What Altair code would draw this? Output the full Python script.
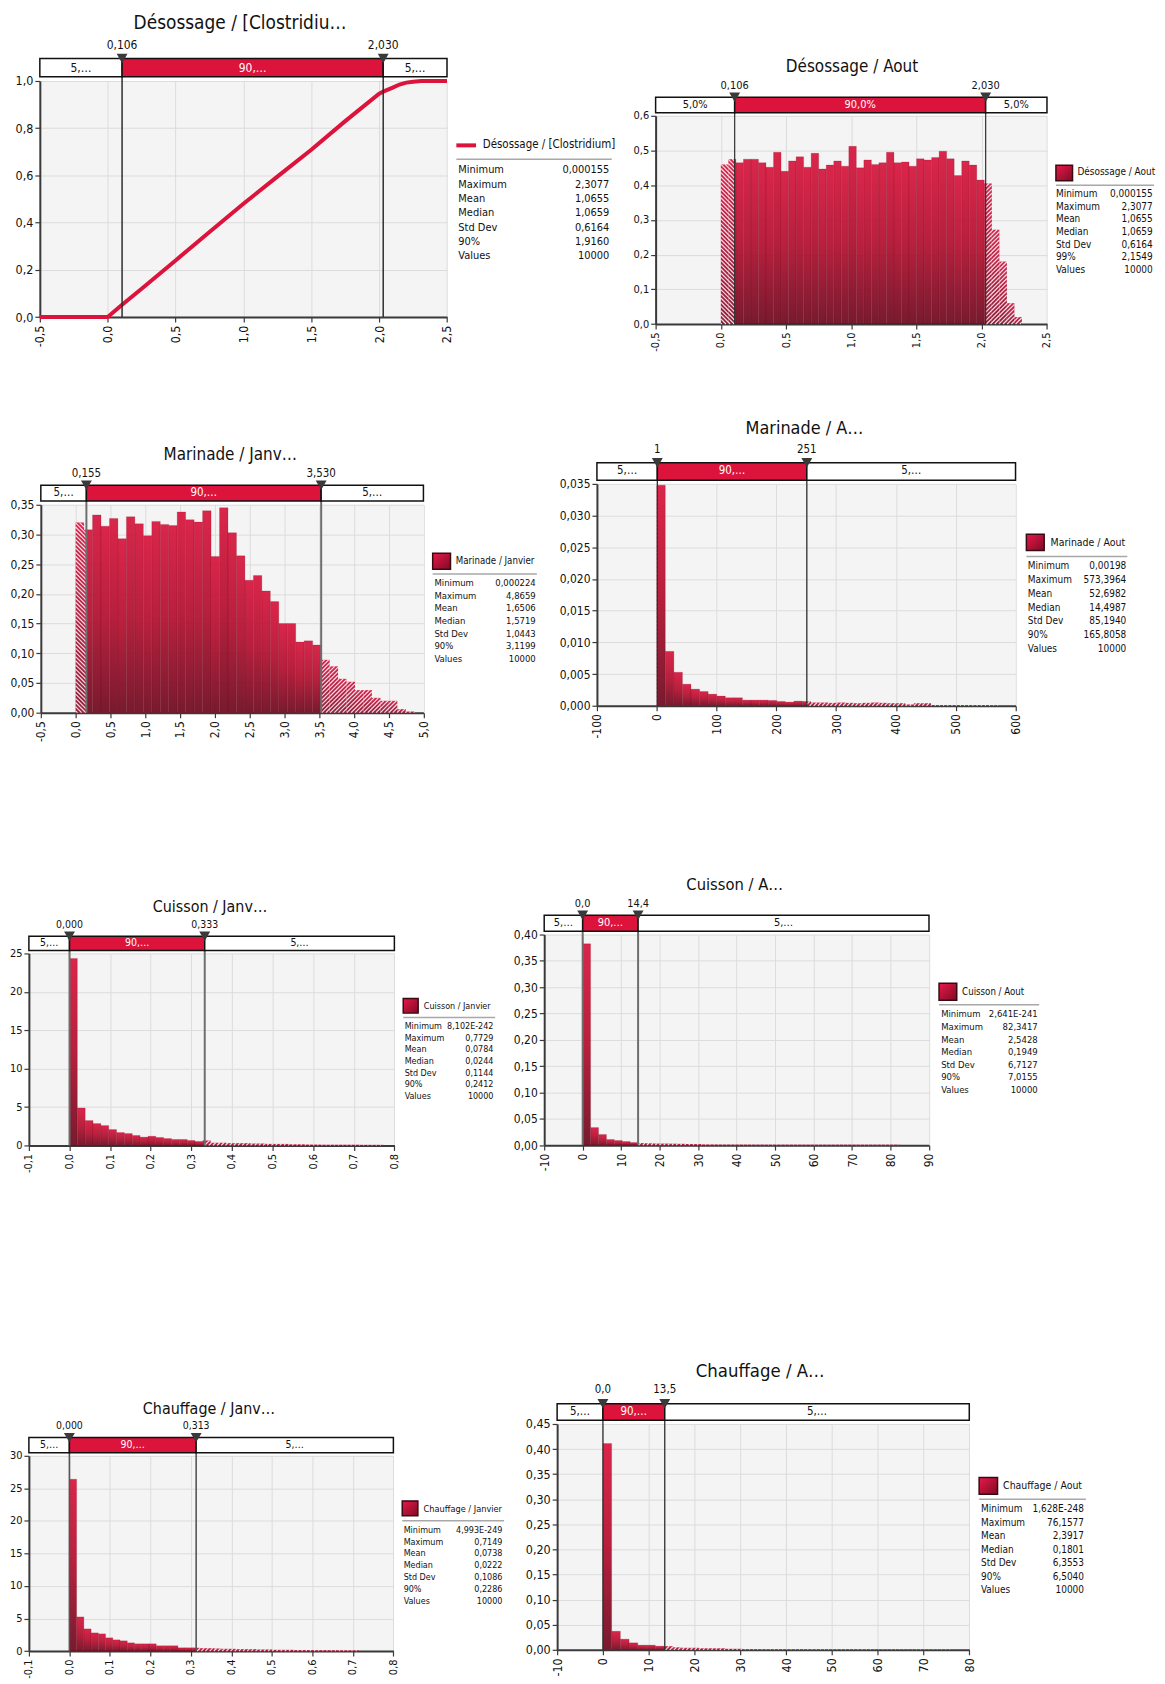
import math
import altair as alt
import pandas as pd

FONT = "DejaVu Sans Condensed, Liberation Sans Narrow, Liberation Sans, DejaVu Sans, sans-serif"
RED = "#DC143C"
INK = "#111111"

# ------------------------------------------------------------------ data
STAT_NAMES = ["Minimum", "Maximum", "Mean", "Median", "Std Dev", "90%", "Values"]
STAT_NAMES_99 = ["Minimum", "Maximum", "Mean", "Median", "Std Dev", "99%", "Values"]

# 1  Désossage / [Clostridium] – cumulative curve
DES_CDF_X = [-0.5, 0.0, 0.106, 0.25, 0.5, 0.75, 1.0, 1.25, 1.5, 1.75, 2.0, 2.03, 2.1, 2.15, 2.2, 2.25, 2.31, 2.5]
DES_CDF_Y = [0.0, 0.0, 0.052, 0.12, 0.24, 0.36, 0.48, 0.595, 0.709, 0.83, 0.946, 0.955, 0.972, 0.985, 0.993, 0.997, 1.0, 1.0]
DES_CDF_STATS = ["0,000155", "2,3077", "1,0655", "1,0659", "0,6164", "1,9160", "10000"]

# 2  Désossage / Aout
DES_AOUT_START, DES_AOUT_BIN = 0.0, 0.0577
DES_AOUT_DENS = [0.46, 0.475, 0.465, 0.475, 0.475, 0.465, 0.452, 0.495, 0.44, 0.47,
                 0.482, 0.452, 0.492, 0.447, 0.458, 0.47, 0.455, 0.512, 0.45, 0.473,
                 0.46, 0.465, 0.495, 0.465, 0.467, 0.455, 0.476, 0.473, 0.48, 0.498,
                 0.476, 0.428, 0.47, 0.458, 0.415, 0.405, 0.272, 0.18, 0.06, 0.02]
DES_AOUT_STATS = ["0,000155", "2,3077", "1,0655", "1,0659", "0,6164", "2,1549", "10000"]

# 3  Marinade / Janvier
MAR_JAN_START, MAR_JAN_BIN = 0.0, 0.1217
MAR_JAN_DENS = [0.32, 0.308, 0.333, 0.314, 0.327, 0.293, 0.33, 0.318, 0.298, 0.322,
                0.317, 0.315, 0.338, 0.325, 0.321, 0.34, 0.263, 0.345, 0.303, 0.264,
                0.223, 0.231, 0.205, 0.187, 0.15, 0.15, 0.119, 0.121, 0.114, 0.089,
                0.078, 0.057, 0.052, 0.038, 0.038, 0.025, 0.02, 0.02, 0.006, 0.002]
MAR_JAN_STATS = ["0,000224", "4,8659", "1,6506", "1,5719", "1,0443", "3,1199", "10000"]

# 4  Marinade / Aout
MAR_AOUT_START, MAR_AOUT_BIN = 0.0, 14.335
MAR_AOUT_DENS = [0.0348, 0.00858, 0.00528, 0.0034, 0.00262, 0.00225, 0.00183, 0.00152, 0.00126, 0.00126,
                 0.00089, 0.00089, 0.00089, 0.00084, 0.00068, 0.00058, 0.00073, 0.00068, 0.0005, 0.0005,
                 0.00045, 0.0005, 0.00045, 0.0004, 0.00045, 0.0005, 0.00045, 0.0004, 0.0004, 0.0002,
                 0.0004, 0.0004, 0.0001, 0.0001, 0.0001, 0.0001, 0.0001, 0.0001, 0.0001, 0.00005]
MAR_AOUT_STATS = ["0,00198", "573,3964", "52,6982", "14,4987", "85,1940", "165,8058", "10000"]

# 5  Cuisson / Janvier
CUI_JAN_START, CUI_JAN_BIN = 0.0, 0.01932
CUI_JAN_DENS = [24.35, 4.88, 3.24, 2.85, 2.59, 2.07, 1.68, 1.55, 1.3, 1.08,
                1.2, 1.04, 0.9, 0.78, 0.78, 0.65, 0.52, 0.65, 0.35, 0.35,
                0.3, 0.3, 0.3, 0.25, 0.25, 0.2, 0.2, 0.2, 0.15, 0.15,
                0.12, 0.12, 0.1, 0.1, 0.1, 0.1, 0.1, 0.08, 0.08, 0.08]
CUI_JAN_STATS = ["8,102E-242", "0,7729", "0,0784", "0,0244", "0,1144", "0,2412", "10000"]

# 6  Cuisson / Aout
CUI_AOUT_START, CUI_AOUT_BIN = 0.0, 2.0585
CUI_AOUT_DENS = [0.3824, 0.0334, 0.0202, 0.0107, 0.0088, 0.0069, 0.005, 0.004, 0.0035, 0.003,
                 0.003, 0.0028, 0.0025, 0.0022, 0.002, 0.0012, 0.0012, 0.001, 0.001, 0.001,
                 0.0009, 0.0009, 0.0009, 0.0008, 0.0008, 0.0008, 0.0008, 0.0008, 0.0008, 0.0008,
                 0.0008, 0.0008, 0.0008, 0.0008, 0.0008, 0.0008, 0.0008, 0.0008, 0.0008, 0.0008]
CUI_AOUT_STATS = ["2,641E-241", "82,3417", "2,5428", "0,1949", "6,7127", "7,0155", "10000"]

# 7  Chauffage / Janvier
CHA_JAN_START, CHA_JAN_BIN = 0.0, 0.01787
CHA_JAN_DENS = [26.4, 5.25, 3.41, 2.8, 2.65, 2.04, 1.73, 1.58, 1.27, 1.12,
                1.12, 1.12, 0.82, 0.82, 0.82, 0.51, 0.51, 0.51, 0.45, 0.45,
                0.4, 0.35, 0.35, 0.3, 0.3, 0.3, 0.25, 0.25, 0.2, 0.2,
                0.2, 0.15, 0.15, 0.15, 0.12, 0.12, 0.12, 0.1, 0.1, 0.1]
CHA_JAN_STATS = ["4,993E-249", "0,7149", "0,0738", "0,0222", "0,1086", "0,2286", "10000"]

# 8  Chauffage / Aout
CHA_AOUT_START, CHA_AOUT_BIN = 0.0, 1.904
CHA_AOUT_DENS = [0.411, 0.037, 0.0212, 0.0139, 0.0093, 0.0093, 0.0073, 0.0073, 0.005, 0.004,
                 0.004, 0.003, 0.003, 0.003, 0.002, 0.002, 0.0008, 0.0008, 0.0008, 0.0007,
                 0.0007, 0.0007, 0.0007, 0.0007, 0.0007, 0.0006, 0.0006, 0.0006, 0.0006, 0.0006,
                 0.0006, 0.0005, 0.0005, 0.0005, 0.0005, 0.0005, 0.0005, 0.0005, 0.0005, 0.0005]
CHA_AOUT_STATS = ["1,628E-248", "76,1577", "2,3917", "0,1801", "6,3553", "6,5040", "10000"]

# axis tick values
X_TICKS_25 = [-0.5, 0.0, 0.5, 1.0, 1.5, 2.0, 2.5]
X_TICKS_50 = [-0.5, 0.0, 0.5, 1.0, 1.5, 2.0, 2.5, 3.0, 3.5, 4.0, 4.5, 5.0]
X_TICKS_600 = [-100, 0, 100, 200, 300, 400, 500, 600]
X_TICKS_08 = [-0.1, 0.0, 0.1, 0.2, 0.3, 0.4, 0.5, 0.6, 0.7, 0.8]
X_TICKS_90 = [-10, 0, 10, 20, 30, 40, 50, 60, 70, 80, 90]
X_TICKS_80 = [-10, 0, 10, 20, 30, 40, 50, 60, 70, 80]
Y_TICKS_10 = [0.0, 0.2, 0.4, 0.6, 0.8, 1.0]
Y_TICKS_06 = [0.0, 0.1, 0.2, 0.3, 0.4, 0.5, 0.6]
Y_TICKS_035 = [0.0, 0.05, 0.10, 0.15, 0.20, 0.25, 0.30, 0.35]
Y_TICKS_0035 = [0.0, 0.005, 0.010, 0.015, 0.020, 0.025, 0.030, 0.035]
Y_TICKS_25 = [0, 5, 10, 15, 20, 25]
Y_TICKS_040 = [0.0, 0.05, 0.10, 0.15, 0.20, 0.25, 0.30, 0.35, 0.40]
Y_TICKS_30 = [0, 5, 10, 15, 20, 25, 30]
Y_TICKS_045 = [0.0, 0.05, 0.10, 0.15, 0.20, 0.25, 0.30, 0.35, 0.40, 0.45]

BAND_SHORT = ["5,…", "90,…", "5,…"]
BAND_PCT = ["5,0%", "90,0%", "5,0%"]

# ------------------------------------------------------------------ styling helpers
BAR_GRAD = alt.LinearGradient(gradient="linear", x1=0, y1=0, x2=0, y2=1, stops=[
    alt.GradientStop(offset=0, color="#D8163E"),
    alt.GradientStop(offset=0.5, color="#B3102F"),
    alt.GradientStop(offset=1, color="#6E0A20")])
HATCH_GRAD = alt.LinearGradient(gradient="linear", x1=0, y1=0, x2=0, y2=1, stops=[
    alt.GradientStop(offset=0, color="#D41A44"),
    alt.GradientStop(offset=1, color="#8E1230")])
SWATCH_GRAD = alt.LinearGradient(gradient="linear", x1=0, y1=0, x2=1, y2=1, stops=[
    alt.GradientStop(offset=0, color="#E8194A"),
    alt.GradientStop(offset=1, color="#7E0A24")])

ONE = pd.DataFrame({"k": [0]})
RIGHT_EDGE = 1154


def lab_expr(fmt):
    return "(datum.value < 0 ? '-' : '') + replace(format(abs(datum.value), '%s'), '.', ',')" % fmt


def text_layer(txt, x, y, size, align="left", color=INK):
    return alt.Chart(ONE).mark_text(text=txt, align=align, baseline="middle", font=FONT,
                                    fontSize=size, color=color).encode(x=alt.value(x), y=alt.value(y))


def box(x0, x1, y0, y1, fill, stroke=None, sw=0):
    kw = dict(fill=fill)
    if stroke:
        kw.update(stroke=stroke, strokeWidth=sw)
    return alt.Chart(ONE).mark_rect(**kw).encode(x=alt.value(x0), x2=alt.value(x1),
                                                 y=alt.value(y0), y2=alt.value(y1))


def hline(x0, x1, y, color, w):
    return alt.Chart(ONE).mark_rule(color=color, strokeWidth=w).encode(
        x=alt.value(x0), x2=alt.value(x1), y=alt.value(y))


def hist_parts(start, width, heights, m1, m2):
    solid, hatch = [], []
    for i, h in enumerate(heights):
        a = start + i * width
        b = a + width
        for lo, hi, side in ((a, min(b, m1), "L"), (max(a, m1), min(b, m2), "S"), (max(a, m2), b, "R")):
            if hi - lo > 1e-9:
                (solid if side == "S" else hatch).append(
                    {"x0": lo, "x1": hi, "y": h, "y0": 0.0, "side": side})
    return pd.DataFrame(solid), pd.DataFrame(hatch)


def hatch_lines(hatch, xdom, ydom, W, H, step=4.2):
    sx = W / (xdom[1] - xdom[0])
    sy = H / (ydom[1] - ydom[0])
    segs = []
    for r in hatch.itertuples():
        X0 = (r.x0 - xdom[0]) * sx
        X1 = (r.x1 - xdom[0]) * sx
        Y0 = (ydom[1] - r.y) * sy
        Y1 = H
        if X1 - X0 < 0.4:
            continue
        if r.side == "L":
            for k in range(math.ceil((Y0 - X1) / step), math.floor((Y1 - X0) / step) + 1):
                c = k * step
                xa, xb = max(X0, Y0 - c), min(X1, Y1 - c)
                if xb - xa > 0.05:
                    segs.append((xa, xa + c, xb, xb + c))
        else:
            for k in range(math.ceil((X0 + Y0) / step), math.floor((X1 + Y1) / step) + 1):
                c = k * step
                xa, xb = max(X0, c - Y1), min(X1, c - Y0)
                if xb - xa > 0.05:
                    segs.append((xa, c - xa, xb, c - xb))
    rows = []
    for xa, ya, xb, yb in segs:
        rows.append({"hx0": xdom[0] + xa / sx, "hy0": ydom[1] - ya / sy,
                     "hx1": xdom[0] + xb / sx, "hy1": ydom[1] - yb / sy})
    return pd.DataFrame(rows)


# ------------------------------------------------------------------ panels (layout in page pixels)
PANELS = {
    "p1": dict(kind="cdf", cx=DES_CDF_X, cy=DES_CDF_Y,
               plot=(39.5, 76.7, 409.3, 237.3), xdom=[-0.5, 2.5], xticks=X_TICKS_25, xfmt=".1f",
               ydom=[0, 1.0], yticks=Y_TICKS_10, yfmt=".1f", tfs=12.5,
               title="Désossage / [Clostridiu…", title_xy=(241.2, 18.3), title_fs=19,
               band=(54.3, 72.7), band_txt=BAND_SHORT, markers=[0.106, 2.030], mlab=["0,106", "2,030"],
               mly=40.7, mfs=12, rc="#2E2E2E", rw=1.5,
               leg="line", sw=(458.7, 478.5, 141.7, 141.7), lab="Désossage / [Clostridium]",
               lab_xy=(485.2, 141.0), lab_fs=11.5, sep=(458.7, 614.9, 155.7),
               y0=166.7, sp=14.43, lx=460.7, vx=612.5, fs=11, names=STAT_NAMES, vals=DES_CDF_STATS),
    "p2": dict(kind="hist", start=DES_AOUT_START, bw=DES_AOUT_BIN, dens=DES_AOUT_DENS,
               plot=(659.3, 111.7, 393.4, 209.3), xdom=[-0.5, 2.5], xticks=X_TICKS_25, xfmt=".1f",
               ydom=[0, 0.6], yticks=Y_TICKS_06, yfmt=".1f", tfs=11,
               title="Désossage / Aout", title_xy=(856.4, 63.3), title_fs=17,
               band=(93.3, 109.0), band_txt=BAND_PCT, markers=[0.106, 2.030], mlab=["0,106", "2,030"],
               mly=82.3, mfs=11, rc="#2E2E2E", rw=1.2,
               leg="box", sw=(1061.4, 1078.1, 161.7, 177.3), lab="Désossage / Aout",
               lab_xy=(1083.0, 168.3), lab_fs=10, sep=(1061.4, 1160.0, 181.7),
               y0=190.7, sp=12.67, lx=1061.4, vx=1158.7, fs=10, names=STAT_NAMES_99, vals=DES_AOUT_STATS),
    "p3": dict(kind="hist", start=MAR_JAN_START, bw=MAR_JAN_BIN, dens=MAR_JAN_DENS,
               plot=(40.4, 502.7, 384.6, 209.0), xdom=[-0.5, 5.0], xticks=X_TICKS_50, xfmt=".1f",
               ydom=[0, 0.35], yticks=Y_TICKS_035, yfmt=".2f", tfs=12,
               title="Marinade / Janv…", title_xy=(230.4, 452.7), title_fs=17,
               band=(483.3, 499.3), band_txt=BAND_SHORT, markers=[0.155, 3.530], mlab=["0,155", "3,530"],
               mly=471.7, mfs=11.5, rc="#6E6E6E", rw=2,
               leg="box", sw=(433.9, 451.8, 551.7, 567.7), lab="Marinade / Janvier",
               lab_xy=(457.1, 559.3), lab_fs=9.7, sep=(433.9, 538.6, 572.7),
               y0=581.7, sp=12.7, lx=435.7, vx=537.5, fs=9.5, names=STAT_NAMES, vals=MAR_JAN_STATS),
    "p4": dict(kind="hist", start=MAR_AOUT_START, bw=MAR_AOUT_BIN, dens=MAR_AOUT_DENS,
               plot=(599.4, 481.7, 420.8, 223.0), xdom=[-100, 600], xticks=X_TICKS_600, xfmt="d",
               ydom=[0, 0.035], yticks=Y_TICKS_0035, yfmt=".3f", tfs=12,
               title="Marinade / A…", title_xy=(807.6, 426.7), title_fs=18,
               band=(460.7, 478.3), band_txt=BAND_SHORT, markers=[1, 251], mlab=["1", "251"],
               mly=447.7, mfs=11.5, rc="#2E2E2E", rw=1.3,
               leg="box", sw=(1030.7, 1048.6, 532.7, 549.0), lab="Marinade / Aout",
               lab_xy=(1055.0, 541.0), lab_fs=10.5, sep=(1030.7, 1132.2, 555.0),
               y0=565.0, sp=13.8, lx=1032.2, vx=1131.1, fs=10, names=STAT_NAMES, vals=MAR_AOUT_STATS),
    "p5": dict(kind="hist", start=CUI_JAN_START, bw=CUI_JAN_BIN, dens=CUI_JAN_DENS,
               plot=(28.3, 954.0, 367.4, 193.0), xdom=[-0.1, 0.8], xticks=X_TICKS_08, xfmt=".1f",
               ydom=[0, 25], yticks=Y_TICKS_25, yfmt="d", tfs=11,
               title="Cuisson / Janv…", title_xy=(210.0, 907.7), title_fs=16,
               band=(936.7, 951.0), band_txt=BAND_SHORT, markers=[0.0, 0.333], mlab=["0,000", "0,333"],
               mly=925.0, mfs=10.5, rc="#6E6E6E", rw=2,
               leg="box", sw=(404.3, 419.3, 999.3, 1014.0), lab="Cuisson / Janvier",
               lab_xy=(425.0, 1006.7), lab_fs=9, sep=(404.3, 496.7, 1018.3),
               y0=1027.0, sp=11.7, lx=405.7, vx=495.0, fs=9, names=STAT_NAMES, vals=CUI_JAN_STATS),
    "p6": dict(kind="hist", start=CUI_AOUT_START, bw=CUI_AOUT_BIN, dens=CUI_AOUT_DENS,
               plot=(546.4, 935.0, 386.8, 211.7), xdom=[-10, 90], xticks=X_TICKS_90, xfmt="d",
               ydom=[0, 0.40], yticks=Y_TICKS_040, yfmt=".2f", tfs=12,
               title="Cuisson / A…", title_xy=(737.5, 885.0), title_fs=16.5,
               band=(915.7, 931.7), band_txt=BAND_SHORT, markers=[0.0, 14.4], mlab=["0,0", "14,4"],
               mly=904.0, mfs=11, rc="#6E6E6E", rw=2,
               leg="box", sw=(942.9, 960.7, 984.0, 1001.0), lab="Cuisson / Aout",
               lab_xy=(966.1, 992.7), lab_fs=9.7, sep=(942.9, 1043.6, 1005.7),
               y0=1015.3, sp=12.67, lx=945.0, vx=1042.1, fs=9.5, names=STAT_NAMES, vals=CUI_AOUT_STATS),
    "p7": dict(kind="hist", start=CHA_JAN_START, bw=CHA_JAN_BIN, dens=CHA_JAN_DENS,
               plot=(29.3, 1459.0, 366.4, 196.3), xdom=[-0.1, 0.8], xticks=X_TICKS_08, xfmt=".1f",
               ydom=[0, 30], yticks=Y_TICKS_30, yfmt="d", tfs=11,
               title="Chauffage / Janv…", title_xy=(210.0, 1411.7), title_fs=16,
               band=(1440.7, 1456.0), band_txt=BAND_SHORT, markers=[0.0, 0.313], mlab=["0,000", "0,313"],
               mly=1429.3, mfs=10.5, rc="#555555", rw=1.6,
               leg="box", sw=(404.3, 420.0, 1504.3, 1519.3), lab="Chauffage / Janvier",
               lab_xy=(425.7, 1512.3), lab_fs=9.2, sep=(404.3, 506.7, 1524.3),
               y0=1533.3, sp=11.95, lx=405.7, vx=505.0, fs=9, names=STAT_NAMES, vals=CHA_JAN_STATS),
    "p8": dict(kind="hist", start=CHA_AOUT_START, bw=CHA_AOUT_BIN, dens=CHA_AOUT_DENS,
               plot=(559.6, 1426.7, 414.3, 227.0), xdom=[-10, 80], xticks=X_TICKS_80, xfmt="d",
               ydom=[0, 0.45], yticks=Y_TICKS_045, yfmt=".2f", tfs=12.5,
               title="Chauffage / A…", title_xy=(764.1, 1373.3), title_fs=18.5,
               band=(1406.7, 1423.3), band_txt=BAND_SHORT, markers=[0.0, 13.5], mlab=["0,0", "13,5"],
               mly=1393.3, mfs=11.5, rc="#2E2E2E", rw=1.3,
               leg="box", sw=(984.2, 1002.7, 1480.7, 1497.7), lab="Chauffage / Aout",
               lab_xy=(1008.3, 1489.0), lab_fs=10.5, sep=(984.2, 1091.5, 1502.7),
               y0=1512.7, sp=13.55, lx=986.1, vx=1089.6, fs=10, names=STAT_NAMES, vals=CHA_AOUT_STATS),
}


def build_panel(p, side, row):
    Y0, Y1, C = row
    X = round(p["plot"][0] - 8)
    Y = round(p["plot"][1] - 8)
    ox, oy = X + 8, Y + 8
    W, H = p["plot"][2], p["plot"][3]

    def rx(v):
        return v - ox

    def ry(v):
        return v - oy

    if side == "L":
        L, R = X - 1, C - X
    else:
        L, R = X - C, RIGHT_EDGE - X
    T, B = Y - Y0 - 1, Y1 - Y

    xdom, ydom = p["xdom"], p["ydom"]
    xs = alt.Scale(domain=xdom, nice=False, zero=False)
    ys = alt.Scale(domain=ydom, nice=False, zero=False)
    xaxis = alt.Axis(values=p["xticks"], labelExpr=lab_expr(p["xfmt"]), labelAngle=270, title=None,
                     labelFontSize=p["tfs"], grid=True, labelPadding=3)
    yaxis = alt.Axis(values=p["yticks"], labelExpr=lab_expr(p["yfmt"]), title=None,
                     labelFontSize=p["tfs"], grid=True)

    def X_(field):
        return alt.X(field, scale=xs, axis=xaxis)

    def Y_(field):
        return alt.Y(field, scale=ys, axis=yaxis)

    layers = [box(-L, -L + 1, -T, -T + 1, "white"), box(R - 1, R, B - 1, B, "white")]

    m1, m2 = p["markers"]
    if p["kind"] == "cdf":
        cdf = pd.DataFrame({"x": p["cx"], "y": p["cy"]})
        layers.append(alt.Chart(cdf).mark_line(color=RED, strokeWidth=4).encode(
            x=X_("x:Q"), y=Y_("y:Q")))
    else:
        solid, hatch = hist_parts(p["start"], p["bw"], p["dens"], m1, m2)
        layers.append(alt.Chart(solid).mark_rect(
            fill=BAR_GRAD, fillOpacity=0.93, stroke="#6A0618", strokeWidth=0.6, strokeOpacity=0.3).encode(
            x=X_("x0:Q"), x2="x1", y=Y_("y:Q"), y2="y0"))
        if len(hatch):
            layers.append(alt.Chart(hatch).mark_rect(fill=HATCH_GRAD, fillOpacity=0.95).encode(
                x=X_("x0:Q"), x2="x1", y=Y_("y:Q"), y2="y0"))
            hl = hatch_lines(hatch, xdom, ydom, W, H)
            if len(hl):
                layers.append(alt.Chart(hl).mark_rule(color="white", strokeWidth=1.2, opacity=0.85).encode(
                    x=X_("hx0:Q"), x2="hx1", y=Y_("hy0:Q"), y2="hy1"))

    bt, bb = ry(p["band"][0]), ry(p["band"][1])
    mk = pd.DataFrame({"m": [m1, m2], "lab": p["mlab"]})
    layers.append(alt.Chart(mk).mark_rule(color=p["rc"], strokeWidth=p["rw"]).encode(
        x=X_("m:Q"), y=alt.value(bt), y2=alt.value(H)))

    bn = pd.DataFrame({"a": [xdom[0], m1, m2], "b": [m1, m2, xdom[1]],
                       "f": ["white", RED, "white"], "tc": [INK, "white", INK], "txt": p["band_txt"]})
    bn["mid"] = (bn["a"] + bn["b"]) / 2
    layers.append(alt.Chart(bn).mark_rect(stroke=INK, strokeWidth=1.5).encode(
        x=X_("a:Q"), x2="b", y=alt.value(bt), y2=alt.value(bb),
        fill=alt.Fill("f:N", scale=None)))
    layers.append(alt.Chart(bn).mark_text(font=FONT, fontSize=p["mfs"], baseline="middle").encode(
        x=X_("mid:Q"), y=alt.value((bt + bb) / 2), text="txt:N",
        color=alt.Color("tc:N", scale=None)))
    layers.append(alt.Chart(mk).mark_point(shape="triangle-down", filled=True, size=120,
                                           color="#3A3A3A", opacity=1).encode(
        x=X_("m:Q"), y=alt.value(bt)))
    layers.append(alt.Chart(mk).mark_text(font=FONT, fontSize=p["mfs"], baseline="middle", color=INK).encode(
        x=X_("m:Q"), y=alt.value(ry(p["mly"])), text="lab:N"))

    # title
    layers.append(text_layer(p["title"], rx(p["title_xy"][0]), ry(p["title_xy"][1]), p["title_fs"], align="center"))

    # legend
    sx0, sx1, sy0, sy1 = p["sw"]
    if p["leg"] == "line":
        layers.append(hline(rx(sx0), rx(sx1), ry(sy0), RED, 4))
    else:
        layers.append(box(rx(sx0), rx(sx1), ry(sy0), ry(sy1), SWATCH_GRAD, stroke="#3A0A14", sw=1.5))
    layers.append(text_layer(p["lab"], rx(p["lab_xy"][0]), ry(p["lab_xy"][1]), p["lab_fs"]))
    layers.append(hline(rx(p["sep"][0]), rx(p["sep"][1]), ry(p["sep"][2]), "#A8A8A8", 1.5))
    for i, (nm, vl) in enumerate(zip(p["names"], p["vals"])):
        yy = ry(p["y0"] + i * p["sp"])
        layers.append(text_layer(nm, rx(p["lx"]), yy, p["fs"]))
        layers.append(text_layer(vl, rx(p["vx"]), yy, p["fs"], align="right"))

    return alt.layer(*layers).properties(width=W, height=H)


def dummy():
    return alt.Chart(ONE).mark_rect(fill="white").encode(
        x=alt.value(0), x2=alt.value(1), y=alt.value(0), y2=alt.value(1)).properties(
        width=1, height=1, view=alt.ViewBackground(fill="white", strokeWidth=0))


ROWS = [((0, 385, 617), "p1", "p2"),
        ((385, 840, 540), "p3", "p4"),
        ((840, 1330, 498), "p5", "p6"),
        ((1330, 1676, 508), "p7", "p8")]

row_charts = []
for row, left, right in ROWS:
    lp = build_panel(PANELS[left], "L", row)
    rp = build_panel(PANELS[right], "R", row)
    row_charts.append(alt.hconcat(dummy(),
                                  alt.vconcat(dummy(), lp, spacing=0),
                                  alt.vconcat(dummy(), rp, spacing=0),
                                  spacing=0))

chart = alt.vconcat(*row_charts, spacing=0).configure_view(
    fill="#F4F4F4", strokeWidth=0
).configure_axis(
    domainColor="#3A3A3A", domainWidth=2, tickColor="#3A3A3A", tickWidth=1.2, tickSize=5,
    gridColor="#DCDCDC", gridWidth=1, labelColor=INK, labelFont=FONT, labelPadding=2,
    labelFlush=False, labelOverlap=False
).properties(padding=0)

chart.save("out.html", embed_options={"renderer": "svg", "actions": False})
